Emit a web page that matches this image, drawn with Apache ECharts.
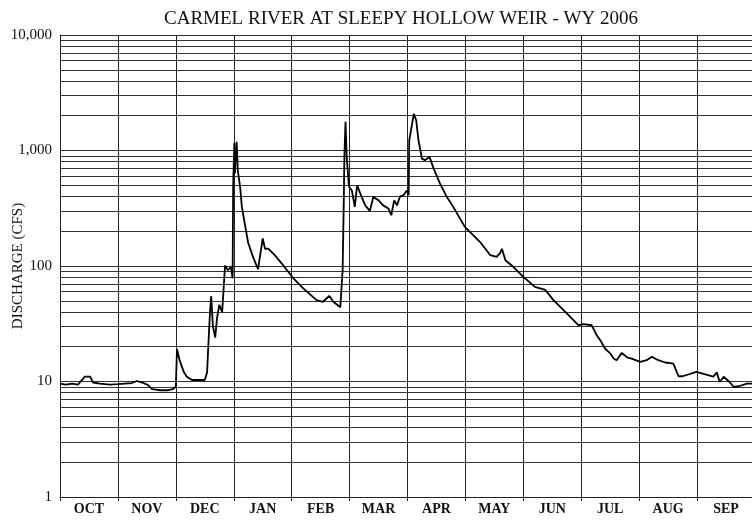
<!DOCTYPE html>
<html>
<head>
<meta charset="utf-8">
<script src="https://cdn.jsdelivr.net/npm/echarts@6/dist/echarts.min.js"></script>
<style>
  html, body { margin: 0; padding: 0; background: #fff; }
  #main { width: 752px; height: 520px; }
</style>
</head>
<body>
<div id="main"></div>
<script>
// month names of the water year
const months = ["OCT", "NOV", "DEC", "JAN", "FEB", "MAR", "APR", "MAY", "JUN", "JUL", "AUG", "SEP"];
// position in months from Oct 1
const monthPos = [
  0, 0.10, 0.21, 0.31, 0.43, 0.52, 0.57, 0.69, 0.86, 1.00,
  1.12, 1.24, 1.33, 1.42, 1.52, 1.59, 1.73, 1.87, 1.95, 2.00,
  2.02, 2.07, 2.14, 2.19, 2.28, 2.50, 2.54, 2.56, 2.59, 2.61,
  2.64, 2.68, 2.71, 2.75, 2.80, 2.83, 2.85, 2.90, 2.95, 2.98,
  2.99, 3.01, 3.02, 3.05, 3.07, 3.11, 3.14, 3.20, 3.25, 3.34,
  3.42, 3.50, 3.54, 3.60, 3.71, 3.83, 4.03, 4.20, 4.43, 4.54,
  4.65, 4.72, 4.84, 4.87, 4.88, 4.90, 4.91, 4.93, 4.95, 4.97,
  4.99, 5.04, 5.09, 5.13, 5.21, 5.27, 5.35, 5.41, 5.50, 5.58,
  5.67, 5.72, 5.77, 5.82, 5.87, 5.93, 5.99, 6.02, 6.03, 6.07,
  6.11, 6.15, 6.19, 6.25, 6.30, 6.38, 6.45, 6.56, 6.68, 6.79,
  6.99, 7.25, 7.43, 7.54, 7.60, 7.63, 7.69, 7.83, 8.00, 8.20,
  8.38, 8.52, 8.75, 8.95, 9.04, 9.18, 9.27, 9.33, 9.41, 9.50,
  9.56, 9.61, 9.70, 9.79, 9.87, 10.02, 10.13, 10.22, 10.33, 10.45,
  10.59, 10.68, 10.75, 10.99, 11.02, 11.28, 11.34, 11.39, 11.46, 11.56,
  11.63, 11.72, 11.86, 11.95, 12.0
];
// discharge in cfs
const discharge = [
  9.6, 9.4, 9.6, 9.4, 11, 11, 9.8, 9.6, 9.4, 9.5,
  9.6, 9.7, 10.1, 9.8, 9.3, 8.6, 8.4, 8.4, 8.6, 9,
  19, 15, 12, 11, 10.3, 10.3, 12, 20, 40, 55,
  30, 24, 35, 46, 40, 70, 101, 92, 98, 78,
  500, 1160, 635, 1190, 670, 485, 325, 218, 158, 117,
  94, 173, 141, 141, 124, 105, 78, 64, 50.6, 49,
  55, 49, 44, 43, 92, 370, 880, 1770, 880, 900,
  485, 450, 325, 500, 395, 335, 300, 395, 370, 335,
  315, 275, 370, 335, 400, 410, 450, 410, 1220, 1600,
  2080, 1830, 1220, 850, 825, 880, 700, 520, 395, 325,
  218, 162, 124, 120, 130, 141, 112, 98, 80.5, 66,
  62, 50.6, 38.9, 30.7, 31.4, 30.7, 25, 22.7, 19.3, 17.5,
  15.8, 15.3, 17.7, 16.2, 15.8, 14.8, 15.3, 16.4, 15.3, 14.6,
  14.3, 11.1, 11.1, 12.1, 12.1, 11, 12, 9.9, 11, 9.9,
  9.0, 9.1, 9.6, 9.6
];
// minor log grid values (2..9 in each decade)
const minorTicks = [];
[1, 10, 100, 1000].forEach(function (d) {
  for (let k = 2; k <= 9; k++) minorTicks.push(d * k);
});

const serif = '"Liberation Serif", "DejaVu Serif", serif';
const chart = echarts.init(document.getElementById("main"));
chart.setOption({
  animation: false,
  title: {
    text: "CARMEL RIVER AT SLEEPY HOLLOW WEIR - WY 2006",
    left: 396,
    textAlign: "center",
    top: 5,
    textStyle: { fontFamily: serif, fontSize: 19, fontWeight: "normal", color: "#111" }
  },
  grid: { left: 60, right: -3, top: 35, bottom: 23, containLabel: false, outerBoundsMode: "none" },
  xAxis: [
    {
      type: "value",
      min: 0,
      max: 12,
      interval: 1,
      axisLine: { show: true, lineStyle: { color: "#222", width: 1 } },
      axisTick: { show: true, length: 4, lineStyle: { color: "#222" } },
      axisLabel: { show: false },
      splitLine: { show: true, lineStyle: { color: "#222", width: 1 } }
    },
    {
      type: "category",
      position: "bottom",
      data: months,
      boundaryGap: true,
      axisLine: { show: false },
      axisTick: { show: false },
      splitLine: { show: false },
      axisLabel: { margin: 5, fontFamily: serif, fontSize: 14, fontWeight: "bold", color: "#111" }
    }
  ],
  yAxis: {
    type: "log",
    logBase: 10,
    min: 1,
    max: 10000,
    name: "DISCHARGE (CFS)",
    nameLocation: "middle",
    nameGap: 34,
    nameMoveOverlap: false,
    nameTextStyle: { fontFamily: serif, fontSize: 15, color: "#111" },
    axisLine: { show: true, lineStyle: { color: "#222" } },
    axisTick: { show: false },
    axisLabel: {
      margin: 8,
      fontFamily: serif,
      fontSize: 15,
      color: "#111",
      formatter: function (v) { return Math.round(v).toLocaleString("en-US"); }
    },
    splitLine: { show: true, lineStyle: { color: "#333", width: 1 } }
  },
  series: [
    {
      type: "line",
      xAxisIndex: 0,
      data: monthPos.map(function (m, i) { return [m, discharge[i]]; }),
      showSymbol: false,
      lineStyle: { color: "#000", width: 1.8 },
      z: 5,
      markLine: {
        silent: true,
        symbol: "none",
        label: { show: false },
        lineStyle: { color: "#333", width: 1, type: "solid" },
        data: minorTicks.map(function (v) { return { yAxis: v }; })
      }
    }
  ]
});
</script>
</body>
</html>
